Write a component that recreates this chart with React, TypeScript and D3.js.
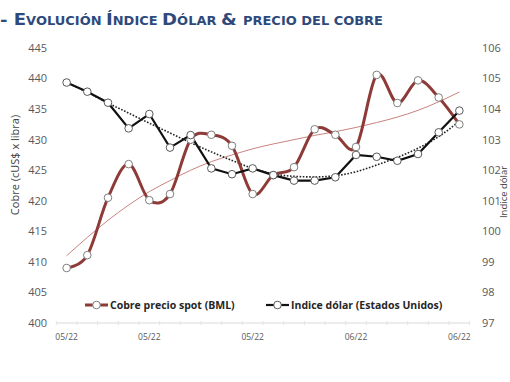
import React from "react";
import * as d3 from "d3";

const dates = [
  "2022-05-11","2022-05-12","2022-05-13","2022-05-16","2022-05-17","2022-05-18","2022-05-19",
  "2022-05-20","2022-05-23","2022-05-24","2022-05-25","2022-05-26","2022-05-27","2022-05-31",
  "2022-06-01","2022-06-02","2022-06-03","2022-06-06","2022-06-07","2022-06-08",
];
const tickIndices = [0, 4, 9, 14, 19];
const tickLabels = ["05/22", "05/22", "05/22", "06/22", "06/22"];

const copper = [409, 411.1, 420.5, 426, 420.1, 421.1, 430, 430.8, 429, 421.1,
  424.2, 425.5, 431.7, 430.8, 428.8, 440.6, 436, 439.7, 436.9, 432.5];
const dollar = [104.87, 104.57, 104.21, 103.37, 103.84, 102.74, 103.15, 102.06, 101.87, 102.06,
  101.84, 101.66, 101.66, 101.77, 102.5, 102.44, 102.31, 102.53, 103.24, 103.95];
const copperTrend = [411, 414, 416.8, 419.3, 421.5, 423.3, 425, 426.4, 427.5, 428.5,
  429.3, 430, 430.7, 431.3, 432, 432.8, 433.7, 434.8, 436.2, 437.8];
const dollarTrend = [104.87, 104.55, 104.2, 103.87, 103.54, 103.22, 102.9, 102.6, 102.32, 102.06,
  101.88, 101.8, 101.78, 101.82, 101.95, 102.17, 102.42, 102.72, 103.1, 103.6];

const leftTicks = [400, 405, 410, 415, 420, 425, 430, 435, 440, 445];
const rightTicks = [97, 98, 99, 100, 101, 102, 103, 104, 105, 106];

const COPPER = "#8E3B38";
const COPPER_TREND = "#C9837F";
const DOLLAR = "#111111";
const AXIS_TXT = "#595959";
const FONT = "'Open Sans', 'Liberation Sans', sans-serif";

export default function App() {
  const W = 510, H = 382;
  const idx = dates.map((_, i) => i);
  const x = d3.scalePoint<number>().domain(idx).range([56.3, 469.7]).padding(0.5);
  const yL = d3.scaleLinear().domain([400, 445]).range([323, 48]);
  const yR = d3.scaleLinear().domain([97, 106]).range([323, 48]);
  const step = x.step();

  const copperLine = d3.line<number>().x((_, i) => x(i)!).y((d) => yL(d)).curve(d3.curveCardinal.tension(0));
  const copperTrendLine = d3.line<number>().x((_, i) => x(i)!).y((d) => yL(d)).curve(d3.curveMonotoneX);
  const dollarLine = d3.line<number>().x((_, i) => x(i)!).y((d) => yR(d));
  const dollarTrendLine = d3.line<number>().x((_, i) => x(i)!).y((d) => yR(d)).curve(d3.curveMonotoneX);

  const minorTicks = d3.range(dates.length + 1).map((i) => 56.3 + i * step);

  return (
    <svg width={W} height={H} style={{ position: "absolute", left: 0, top: 0, background: "#fff" }}>
      {/* Title */}
      <text x={0} y={25} fill="#2E4A7C" fontFamily="'DejaVu Sans', Verdana, sans-serif" fontWeight="bold"
        textLength={383} lengthAdjust="spacingAndGlyphs">
        <tspan fontSize={16}>- E</tspan>
        <tspan fontSize={11.5}>VOLUCIÓN </tspan>
        <tspan fontSize={16}>Í</tspan>
        <tspan fontSize={11.5}>NDICE </tspan>
        <tspan fontSize={16}>D</tspan>
        <tspan fontSize={11.5}>ÓLAR </tspan>
        <tspan fontSize={16}>& </tspan>
        <tspan fontSize={11.5}>PRECIO DEL COBRE</tspan>
      </text>

      {/* Left axis labels */}
      {leftTicks.map((t) => (
        <text key={"l" + t} x={47} y={yL(t)} dy="0.35em" textAnchor="end" fontFamily={FONT} fontSize={11} fill={AXIS_TXT}>
          {t}
        </text>
      ))}
      {/* Right axis labels */}
      {rightTicks.map((t) => (
        <text key={"r" + t} x={482} y={yR(t)} dy="0.35em" textAnchor="start" fontFamily={FONT} fontSize={11} fill={AXIS_TXT}>
          {t}
        </text>
      ))}

      {/* Axis titles */}
      <text transform={`translate(15,165) rotate(-90)`} textAnchor="middle" dy="0.35em" fontFamily={FONT} fontSize={11} fill="#404040">
        Cobre (cUS$ x libra)
      </text>
      <text transform={`translate(503.8,192) rotate(-90)`} textAnchor="middle" dy="0.35em" fontFamily={FONT} fontSize={9.5} fill="#404040">
        Indice dólar
      </text>

      {/* X axis */}
      <line x1={56.3} x2={469.7} y1={323} y2={323} stroke="#D9D9D9" strokeWidth={1} />
      {minorTicks.map((mx, i) => (
        <line key={"m" + i} x1={mx} x2={mx} y1={321} y2={325} stroke="#E3E3E3" strokeWidth={1} />
      ))}
      {tickIndices.map((ti, k) => (
        <text key={"x" + k} x={x(ti)} y={340} textAnchor="middle" fontFamily={FONT} fontSize={8.5} fill={AXIS_TXT}>
          {tickLabels[k]}
        </text>
      ))}

      {/* Trend lines */}
      <path d={copperTrendLine(copperTrend)!} fill="none" stroke={COPPER_TREND} strokeWidth={1} />
      <path d={dollarTrendLine(dollarTrend)!} fill="none" stroke="#222" strokeWidth={1.6} strokeDasharray="1.6,1.6" />

      {/* Series */}
      <path d={copperLine(copper)!} fill="none" stroke={COPPER} strokeWidth={3} />
      <path d={dollarLine(dollar)!} fill="none" stroke={DOLLAR} strokeWidth={2.2} />
      {copper.map((v, i) => (
        <circle key={"c" + i} cx={x(i)} cy={yL(v)} r={3.8} fill="#fff" stroke="#7F7F7F" strokeWidth={1} />
      ))}
      {dollar.map((v, i) => (
        <circle key={"d" + i} cx={x(i)} cy={yR(v)} r={3.8} fill="#fff" stroke="#595959" strokeWidth={1} />
      ))}

      {/* Legend */}
      <g>
        <line x1={85} x2={108} y1={305} y2={305} stroke={COPPER} strokeWidth={3} />
        <circle cx={96.5} cy={305} r={3.8} fill="#fff" stroke="#7F7F7F" strokeWidth={1} />
        <text x={110} y={305} dy="0.35em" fontFamily={FONT} fontWeight="bold" fontSize={10.5} fill="#262626">
          Cobre precio spot (BML)
        </text>
        <line x1={266} x2={289} y1={305} y2={305} stroke={DOLLAR} strokeWidth={2.2} />
        <circle cx={277.5} cy={305} r={3.8} fill="#fff" stroke="#595959" strokeWidth={1} />
        <text x={291} y={305} dy="0.35em" fontFamily={FONT} fontWeight="bold" fontSize={10.5} fill="#262626">
          Indice dólar (Estados Unidos)
        </text>
      </g>
    </svg>
  );
}
